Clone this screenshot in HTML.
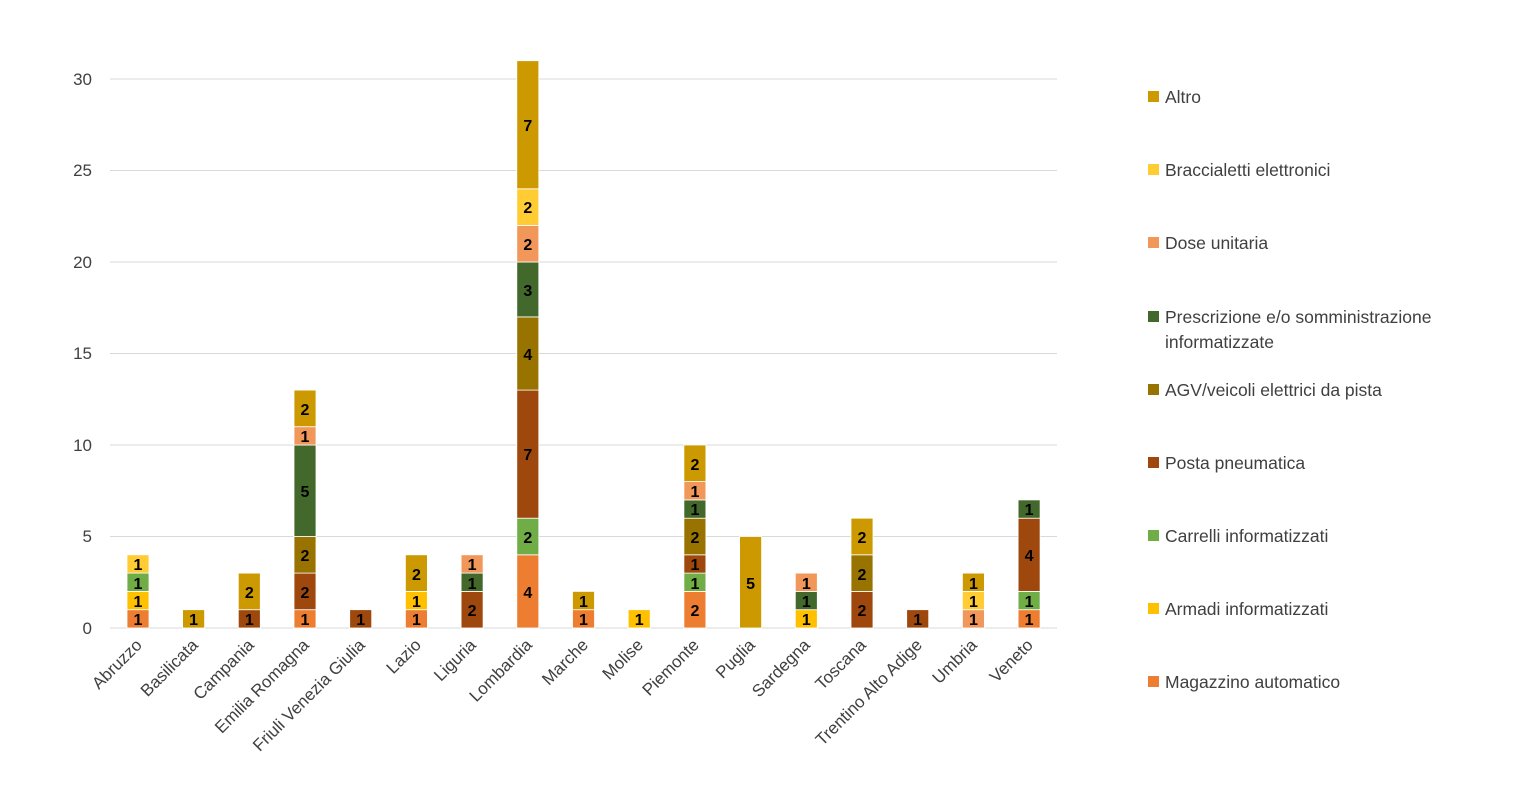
<!DOCTYPE html>
<html><head><meta charset="utf-8"><style>
body{margin:0;background:#fff}
svg text{font-family:"Liberation Sans",Calibri,sans-serif}
.l{font-size:16px;font-weight:bold;text-anchor:middle;fill:#000}
.ax{font-size:17px;fill:#404040}
.lg{font-size:17.5px;fill:#404040}
rect.s{stroke:#fff;stroke-width:0.8}
</style></head><body>
<svg width="1529" height="806" xmlns="http://www.w3.org/2000/svg">
<g stroke="#d9d9d9" stroke-width="1">
<line x1="110" x2="1057" y1="79" y2="79"/><line x1="110" x2="1057" y1="170.5" y2="170.5"/><line x1="110" x2="1057" y1="262" y2="262"/><line x1="110" x2="1057" y1="353.5" y2="353.5"/><line x1="110" x2="1057" y1="445" y2="445"/><line x1="110" x2="1057" y1="536.5" y2="536.5"/><line x1="110" x2="1057" y1="628" y2="628"/>
</g>
<g class="ax" text-anchor="end">
<text x="92" y="85">30</text><text x="92" y="176">25</text><text x="92" y="268">20</text><text x="92" y="359">15</text><text x="92" y="451">10</text><text x="92" y="542">5</text><text x="92" y="634">0</text>
</g>
<g>
<rect class="s" x="127" y="609.7" width="22" height="18.3" fill="#ED7D31"/><text class="l" x="138" y="625">1</text>
<rect class="s" x="127" y="591.4" width="22" height="18.3" fill="#FFC000"/><text class="l" x="138" y="607">1</text>
<rect class="s" x="127" y="573.1" width="22" height="18.3" fill="#70AD47"/><text class="l" x="138" y="589">1</text>
<rect class="s" x="127" y="554.8" width="22" height="18.3" fill="#FFCD33"/><text class="l" x="138" y="570">1</text>
<rect class="s" x="182.6" y="609.7" width="22" height="18.3" fill="#CC9900"/><text class="l" x="193.6" y="625">1</text>
<rect class="s" x="238.3" y="609.7" width="22" height="18.3" fill="#9E480E"/><text class="l" x="249.3" y="625">1</text>
<rect class="s" x="238.3" y="573.1" width="22" height="36.6" fill="#CC9900"/><text class="l" x="249.3" y="598">2</text>
<rect class="s" x="294" y="609.7" width="22" height="18.3" fill="#ED7D31"/><text class="l" x="305" y="625">1</text>
<rect class="s" x="294" y="573.1" width="22" height="36.6" fill="#9E480E"/><text class="l" x="305" y="598">2</text>
<rect class="s" x="294" y="536.5" width="22" height="36.6" fill="#997300"/><text class="l" x="305" y="561">2</text>
<rect class="s" x="294" y="445" width="22" height="91.5" fill="#43682B"/><text class="l" x="305" y="497">5</text>
<rect class="s" x="294" y="426.7" width="22" height="18.3" fill="#F1975A"/><text class="l" x="305" y="442">1</text>
<rect class="s" x="294" y="390.1" width="22" height="36.6" fill="#CC9900"/><text class="l" x="305" y="415">2</text>
<rect class="s" x="349.7" y="609.7" width="22" height="18.3" fill="#9E480E"/><text class="l" x="360.7" y="625">1</text>
<rect class="s" x="405.4" y="609.7" width="22" height="18.3" fill="#ED7D31"/><text class="l" x="416.4" y="625">1</text>
<rect class="s" x="405.4" y="591.4" width="22" height="18.3" fill="#FFC000"/><text class="l" x="416.4" y="607">1</text>
<rect class="s" x="405.4" y="554.8" width="22" height="36.6" fill="#CC9900"/><text class="l" x="416.4" y="580">2</text>
<rect class="s" x="461.1" y="591.4" width="22" height="36.6" fill="#9E480E"/><text class="l" x="472.1" y="616">2</text>
<rect class="s" x="461.1" y="573.1" width="22" height="18.3" fill="#43682B"/><text class="l" x="472.1" y="589">1</text>
<rect class="s" x="461.1" y="554.8" width="22" height="18.3" fill="#F1975A"/><text class="l" x="472.1" y="570">1</text>
<rect class="s" x="516.8" y="554.8" width="22" height="73.2" fill="#ED7D31"/><text class="l" x="527.8" y="598">4</text>
<rect class="s" x="516.8" y="518.2" width="22" height="36.6" fill="#70AD47"/><text class="l" x="527.8" y="543">2</text>
<rect class="s" x="516.8" y="390.1" width="22" height="128.1" fill="#9E480E"/><text class="l" x="527.8" y="460">7</text>
<rect class="s" x="516.8" y="316.9" width="22" height="73.2" fill="#997300"/><text class="l" x="527.8" y="360">4</text>
<rect class="s" x="516.8" y="262" width="22" height="54.9" fill="#43682B"/><text class="l" x="527.8" y="296">3</text>
<rect class="s" x="516.8" y="225.4" width="22" height="36.6" fill="#F1975A"/><text class="l" x="527.8" y="250">2</text>
<rect class="s" x="516.8" y="188.8" width="22" height="36.6" fill="#FFCD33"/><text class="l" x="527.8" y="213">2</text>
<rect class="s" x="516.8" y="60.7" width="22" height="128.1" fill="#CC9900"/><text class="l" x="527.8" y="131">7</text>
<rect class="s" x="572.5" y="609.7" width="22" height="18.3" fill="#ED7D31"/><text class="l" x="583.5" y="625">1</text>
<rect class="s" x="572.5" y="591.4" width="22" height="18.3" fill="#CC9900"/><text class="l" x="583.5" y="607">1</text>
<rect class="s" x="628.2" y="609.7" width="22" height="18.3" fill="#FFC000"/><text class="l" x="639.2" y="625">1</text>
<rect class="s" x="683.9" y="591.4" width="22" height="36.6" fill="#ED7D31"/><text class="l" x="694.9" y="616">2</text>
<rect class="s" x="683.9" y="573.1" width="22" height="18.3" fill="#70AD47"/><text class="l" x="694.9" y="589">1</text>
<rect class="s" x="683.9" y="554.8" width="22" height="18.3" fill="#9E480E"/><text class="l" x="694.9" y="570">1</text>
<rect class="s" x="683.9" y="518.2" width="22" height="36.6" fill="#997300"/><text class="l" x="694.9" y="543">2</text>
<rect class="s" x="683.9" y="499.9" width="22" height="18.3" fill="#43682B"/><text class="l" x="694.9" y="515">1</text>
<rect class="s" x="683.9" y="481.6" width="22" height="18.3" fill="#F1975A"/><text class="l" x="694.9" y="497">1</text>
<rect class="s" x="683.9" y="445" width="22" height="36.6" fill="#CC9900"/><text class="l" x="694.9" y="470">2</text>
<rect class="s" x="739.6" y="536.5" width="22" height="91.5" fill="#CC9900"/><text class="l" x="750.6" y="589">5</text>
<rect class="s" x="795.3" y="609.7" width="22" height="18.3" fill="#FFC000"/><text class="l" x="806.3" y="625">1</text>
<rect class="s" x="795.3" y="591.4" width="22" height="18.3" fill="#43682B"/><text class="l" x="806.3" y="607">1</text>
<rect class="s" x="795.3" y="573.1" width="22" height="18.3" fill="#F1975A"/><text class="l" x="806.3" y="589">1</text>
<rect class="s" x="851" y="591.4" width="22" height="36.6" fill="#9E480E"/><text class="l" x="862" y="616">2</text>
<rect class="s" x="851" y="554.8" width="22" height="36.6" fill="#997300"/><text class="l" x="862" y="580">2</text>
<rect class="s" x="851" y="518.2" width="22" height="36.6" fill="#CC9900"/><text class="l" x="862" y="543">2</text>
<rect class="s" x="906.7" y="609.7" width="22" height="18.3" fill="#9E480E"/><text class="l" x="917.7" y="625">1</text>
<rect class="s" x="962.4" y="609.7" width="22" height="18.3" fill="#F1975A"/><text class="l" x="973.4" y="625">1</text>
<rect class="s" x="962.4" y="591.4" width="22" height="18.3" fill="#FFCD33"/><text class="l" x="973.4" y="607">1</text>
<rect class="s" x="962.4" y="573.1" width="22" height="18.3" fill="#CC9900"/><text class="l" x="973.4" y="589">1</text>
<rect class="s" x="1018.1" y="609.7" width="22" height="18.3" fill="#ED7D31"/><text class="l" x="1029.1" y="625">1</text>
<rect class="s" x="1018.1" y="591.4" width="22" height="18.3" fill="#70AD47"/><text class="l" x="1029.1" y="607">1</text>
<rect class="s" x="1018.1" y="518.2" width="22" height="73.2" fill="#9E480E"/><text class="l" x="1029.1" y="561">4</text>
<rect class="s" x="1018.1" y="499.9" width="22" height="18.3" fill="#43682B"/><text class="l" x="1029.1" y="515">1</text>
</g>
<g class="ax" text-anchor="end">
<text transform="translate(143,646) rotate(-45)">Abruzzo</text>
<text transform="translate(199,646) rotate(-45)">Basilicata</text>
<text transform="translate(255,646) rotate(-45)">Campania</text>
<text transform="translate(310,646) rotate(-45)">Emilia Romagna</text>
<text transform="translate(366,646) rotate(-45)">Friuli Venezia Giulia</text>
<text transform="translate(422,646) rotate(-45)">Lazio</text>
<text transform="translate(477,646) rotate(-45)">Liguria</text>
<text transform="translate(533,646) rotate(-45)">Lombardia</text>
<text transform="translate(589,646) rotate(-45)">Marche</text>
<text transform="translate(644,646) rotate(-45)">Molise</text>
<text transform="translate(700,646) rotate(-45)">Piemonte</text>
<text transform="translate(756,646) rotate(-45)">Puglia</text>
<text transform="translate(811,646) rotate(-45)">Sardegna</text>
<text transform="translate(867,646) rotate(-45)">Toscana</text>
<text transform="translate(923,646) rotate(-45)">Trentino Alto Adige</text>
<text transform="translate(978,646) rotate(-45)">Umbria</text>
<text transform="translate(1034,646) rotate(-45)">Veneto</text>
</g>
<g class="lg">
<rect x="1148" y="91" width="11" height="11" fill="#CC9900"/><text x="1165" y="103">Altro</text>
<rect x="1148" y="164" width="11" height="11" fill="#FFCD33"/><text x="1165" y="176">Braccialetti elettronici</text>
<rect x="1148" y="237" width="11" height="11" fill="#F1975A"/><text x="1165" y="249">Dose unitaria</text>
<rect x="1148" y="311" width="11" height="11" fill="#43682B"/><text x="1165" y="323">Prescrizione e/o somministrazione</text><text x="1165" y="348">informatizzate</text>
<rect x="1148" y="384" width="11" height="11" fill="#997300"/><text x="1165" y="396">AGV/veicoli elettrici da pista</text>
<rect x="1148" y="457" width="11" height="11" fill="#9E480E"/><text x="1165" y="469">Posta pneumatica</text>
<rect x="1148" y="530" width="11" height="11" fill="#70AD47"/><text x="1165" y="542">Carrelli informatizzati</text>
<rect x="1148" y="603" width="11" height="11" fill="#FFC000"/><text x="1165" y="615">Armadi informatizzati</text>
<rect x="1148" y="676" width="11" height="11" fill="#ED7D31"/><text x="1165" y="688">Magazzino automatico</text>
</g>
</svg>
</body></html>
